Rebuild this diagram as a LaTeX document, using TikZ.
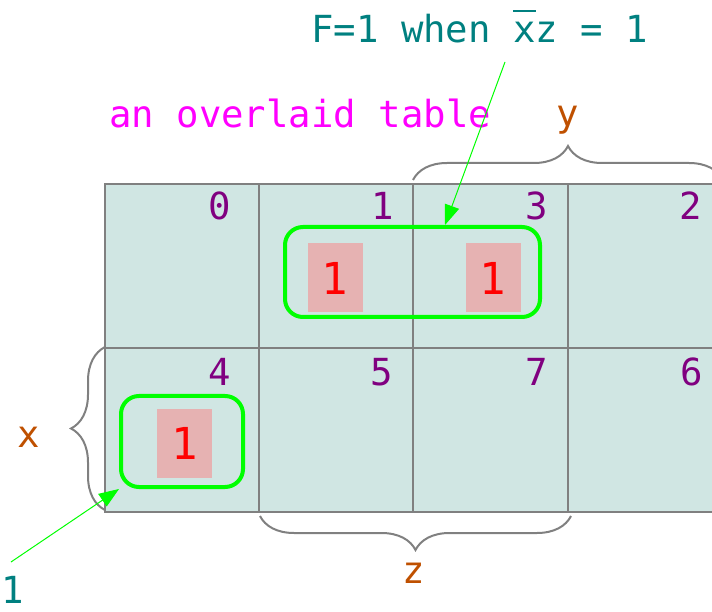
\documentclass[tikz,border=0pt]{standalone}
\usepackage{fontspec}
\setmonofont{DejaVu Sans Mono}
\usetikzlibrary{arrows.meta,decorations.pathreplacing}
\definecolor{cellfill}{RGB}{208,230,227}
\definecolor{gridgray}{RGB}{128,128,128}
\definecolor{numpurple}{RGB}{128,0,128}
\definecolor{vartxt}{RGB}{191,80,0}
\definecolor{tealtxt}{RGB}{0,128,128}
\definecolor{onefill}{RGB}{230,178,178}
\definecolor{grp}{RGB}{0,255,0}
\definecolor{tblmag}{RGB}{255,0,255}
\begin{document}
\begin{tikzpicture}[x=1pt,y=1pt,
  font=\ttfamily\fontsize{37.3}{40}\selectfont,
  cell/.style={draw=gridgray,line width=1.3pt,fill=cellfill,minimum width=154pt,minimum height=164pt,inner sep=0pt,outer sep=0pt},
  cellnum/.style={text=numpurple,inner sep=0pt},
  onebox/.style={fill=onefill,text=red,minimum width=55pt,minimum height=69pt,inner sep=0pt,font=\ttfamily\fontsize{44}{46}\selectfont},
  grpbox/.style={draw=grp,line width=4pt,rounded corners=18pt,inner sep=0pt},
  vbrace/.style={decorate,decoration={brace,amplitude=34pt},draw=gridgray,line width=2pt},
  varlbl/.style={text=vartxt,inner sep=0pt},
  note/.style={text=tealtxt,inner sep=0pt},
  ptr/.style={draw=grp,line width=1pt,-{Triangle[length=20pt,width=15pt]}}
]
\useasboundingbox (0,0) rectangle (712,611);
\clip (0,0) rectangle (712,611);
% cells
\node[cell] (c0) at (182,345) {};
\node[cell] (c1) at (336,345) {};
\node[cell] (c3) at (490.5,345) {};
\node[cell] (c2) at (645,345) {};
\node[cell] (c4) at (182,181) {};
\node[cell] (c5) at (336,181) {};
\node[cell] (c7) at (490.5,181) {};
\node[cell] (c6) at (645,181) {};
% cell numbers
\node[cellnum] (n0) at (220,405) {0};
\node[cellnum] (n1) at (383,405) {1};
\node[cellnum] (n3) at (537,405) {3};
\node[cellnum] (n2) at (691,405) {2};
\node[cellnum] (n4) at (220,239) {4};
\node[cellnum] (n5) at (382,239) {5};
\node[cellnum] (n7) at (537,239) {7};
\node[cellnum] (n6) at (692,239) {6};
% ones
\node[onebox] (o1) at (335,333) {1};
\node[onebox] (o3) at (493,333) {1};
\node[onebox] (o4) at (184.5,167.5) {1};
% groups
\node[grpbox,minimum width=255pt,minimum height=90pt] (g13) at (412.5,339) {};
\node[grpbox,minimum width=122pt,minimum height=91pt] (g4) at (182,169.5) {};
% braces
\draw[vbrace] (413,431) -- (723,431);
\draw[vbrace] (105,101) -- (105,264);
\draw[vbrace] (571,95) -- (260,95);
% labels
\node[varlbl,anchor=base] (ly) at (568,484) {y};
\node[varlbl,anchor=base] (lx) at (29,164) {x};
\node[varlbl,anchor=base] (lz) at (414,28) {z};
\node[text=tblmag,inner sep=0pt,anchor=base west] (tbl) at (109,483) {an overlaid table};
\node[note,anchor=base west] (title) at (311,568) {F=1 when \makebox[0pt][l]{\rule[31pt]{22.3pt}{1.5pt}}xz = 1};
\node[note,anchor=base] (l1) at (12.5,8) {1};
% pointers
\coordinate (a1) at (505,549);
\coordinate (a2) at (11,49);
\draw[ptr] (a1) -- ([xshift=32.5pt]g13.north);
\draw[ptr] (a2) -- (g4.south west);
\end{tikzpicture}
\end{document}
